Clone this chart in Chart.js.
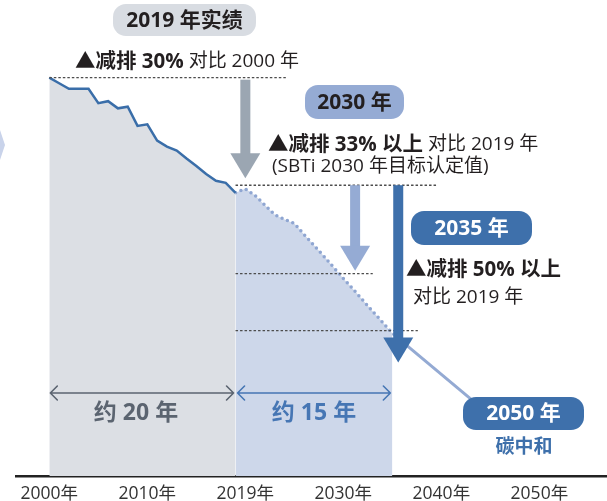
<!DOCTYPE html>
<html lang="zh-CN">
<head>
<meta charset="utf-8">
<script src="https://cdn.jsdelivr.net/npm/chart.js@4.4.1/dist/chart.umd.min.js"></script>
<style>
  html, body { margin: 0; padding: 0; background: #fff; }
  #wrap { position: relative; width: 607px; height: 501px; }
</style>
</head>
<body>
<div id="wrap"><canvas id="chart"></canvas></div>
<script>
// 排放指数 (2000 年 = 100)
const actualYears = [2000, 2001, 2002, 2003, 2004, 2005, 2006, 2007, 2008, 2009,
                     2010, 2011, 2012, 2013, 2014, 2015, 2016, 2017, 2018, 2019];
const actualValues = [100, 98.6, 97.2, 97.2, 97.2, 93.6, 94.1, 92.3, 92.7, 87.9,
                      88.3, 84.2, 82.7, 81.7, 79.7, 77.8, 75.8, 74.1, 73.6, 71.1];
const planYears = [2019, 2020, 2021, 2022, 2023, 2024, 2025, 2026, 2027,
                   2028, 2029, 2030, 2031, 2032, 2033, 2034, 2035];
const planValues = [71.1, 72.1, 70.4, 68.0, 65.6, 64.4, 63.4, 60.6, 57.9,
                    55.2, 52.4, 49.6, 46.9, 44.1, 41.3, 38.6, 35.8];
const pathYears = [2035, 2045];
const pathValues = [35.8, 15.2];
const tickYears = [2000, 2010, 2020, 2030, 2040, 2050];
const tickLabels = ['2000年', '2010年', '2019年', '2030年', '2040年', '2050年'];
// 基准线: 2000 年水平, 2019 年水平, 2030 目标, 2035 目标
const refLevels = [100, 73, 50.8, 36.5];

const FONT = '"Open Sans", "Noto Sans CJK SC", sans-serif';
const DARK = '#231f20';

const toPoints = (xs, ys) => xs.map((v, i) => ({ x: v, y: ys[i] }));

function roundRect(ctx, x, y, w, h, r, color) {
    ctx.beginPath();
    ctx.moveTo(x + r, y);
    ctx.arcTo(x + w, y, x + w, y + h, r);
    ctx.arcTo(x + w, y + h, x, y + h, r);
    ctx.arcTo(x, y + h, x, y, r);
    ctx.arcTo(x, y, x + w, y, r);
    ctx.closePath();
    ctx.fillStyle = color;
    ctx.fill();
}

function pill(ctx, cx, cy, w, h, bg, label, color) {
    roundRect(ctx, cx - w / 2, cy - h / 2, w, h, 13, bg);
    ctx.font = 'bold 21px ' + FONT;
    ctx.fillStyle = color;
    ctx.textAlign = 'center';
    ctx.fillText(label, cx, cy + 1);
    ctx.textAlign = 'left';
}

// 混合粗细的一行文字
function runs(ctx, x, y, parts) {
    let cx = x;
    parts.forEach(([text, font, color]) => {
        ctx.font = font;
        ctx.fillStyle = color || DARK;
        ctx.fillText(text, cx, y);
        cx += ctx.measureText(text).width;
    });
}

function downArrow(ctx, cx, top, tip, color) {
    const shaftW = 10, headW = 30, headH = 25;
    ctx.fillStyle = color;
    ctx.fillRect(cx - shaftW / 2, top, shaftW, tip - headH - top + 1);
    ctx.beginPath();
    ctx.moveTo(cx - headW / 2, tip - headH);
    ctx.lineTo(cx + headW / 2, tip - headH);
    ctx.lineTo(cx, tip);
    ctx.closePath();
    ctx.fill();
}

function spanArrow(ctx, x1, x2, yy, color) {
    ctx.strokeStyle = color;
    ctx.lineWidth = 1.6;
    ctx.lineCap = 'round';
    ctx.lineJoin = 'round';
    ctx.beginPath();
    ctx.moveTo(x1, yy);
    ctx.lineTo(x2, yy);
    ctx.moveTo(x1 + 7, yy - 7);
    ctx.lineTo(x1, yy);
    ctx.lineTo(x1 + 7, yy + 7);
    ctx.moveTo(x2 - 7, yy - 7);
    ctx.lineTo(x2, yy);
    ctx.lineTo(x2 - 7, yy + 7);
    ctx.stroke();
}

function refLine(ctx, x1, x2, yy) {
    ctx.save();
    ctx.strokeStyle = '#4d4d4d';
    ctx.lineWidth = 1.4;
    ctx.setLineDash([2.5, 2]);
    ctx.beginPath();
    ctx.moveTo(x1, yy);
    ctx.lineTo(x2, yy);
    ctx.stroke();
    ctx.restore();
}

const overlay = {
    id: 'overlay',
    afterDatasetsDraw(chart) {
        const { ctx, scales: { x, y } } = chart;
        const px = v => x.getPixelForValue(v);
        const py = v => y.getPixelForValue(v);
        const bold = 'bold 20.5px ' + FONT;
        const normal = '19px ' + FONT;
        ctx.save();
        ctx.textBaseline = 'middle';

        // 左侧装饰
        ctx.fillStyle = '#c9d3ea';
        ctx.beginPath();
        ctx.moveTo(0, 130);
        ctx.lineTo(5, 145);
        ctx.lineTo(0, 160);
        ctx.closePath();
        ctx.fill();

        // 基准虚线
        const x2019 = px(actualYears[actualYears.length - 1]);
        refLine(ctx, px(2000), px(2024.3), py(refLevels[0]));
        refLine(ctx, x2019, px(2039.6), py(refLevels[1]));
        refLine(ctx, x2019, px(2033), py(refLevels[2]));
        refLine(ctx, x2019, px(2037.6), py(refLevels[3]));

        // 箭头
        downArrow(ctx, px(2020), py(refLevels[0]) + 2, py(refLevels[1]) - 7, '#9ba6b2');
        downArrow(ctx, px(2031.2), py(refLevels[1]), py(refLevels[2]) - 3, '#95abd4');
        downArrow(ctx, px(2035.6), py(refLevels[1]), py(refLevels[3]) + 32, '#3e70ab');

        // 2019 年实绩
        pill(ctx, 184.5, 20, 143, 32, '#d8dce2', '2019 年实绩', DARK);
        runs(ctx, 75, 62, [['▲减排 30%', bold], [' 对比 2000 年', normal]]);

        // 2030 年
        pill(ctx, 354.5, 102, 99, 34, '#95abd4', '2030 年', DARK);
        runs(ctx, 268, 145, [['▲减排 33% 以上', bold], [' 对比 2019 年', normal]]);
        runs(ctx, 272, 167, [['(SBTi 2030 年目标认定值)', normal]]);

        // 2035 年
        pill(ctx, 471.5, 228, 121, 34, '#3e70ab', '2035 年', '#fff');
        runs(ctx, 406, 270, [['▲减排 50% 以上', bold]]);
        runs(ctx, 413, 298, [['对比 2019 年', normal]]);

        // 期间
        spanArrow(ctx, px(2000) + 1, x2019 - 2, 393, '#5b6470');
        spanArrow(ctx, x2019 + 2, px(planYears[planYears.length - 1]) - 2, 393, '#4676b4');
        ctx.textAlign = 'center';
        ctx.font = 'bold 23px ' + FONT;
        ctx.fillStyle = '#5b6470';
        ctx.fillText('约 20 年', 136, 413);
        ctx.fillStyle = '#4676b4';
        ctx.fillText('约 15 年', 314, 413);

        // 2050 年
        pill(ctx, 523.5, 413.5, 121, 33, '#3e70ab', '2050 年', '#fff');
        ctx.textAlign = 'center';
        ctx.font = 'bold 19px ' + FONT;
        ctx.fillStyle = '#3e70ab';
        ctx.fillText('碳中和', 524, 448);
        ctx.restore();
    }
};

new Chart(document.getElementById('chart'), {
    type: 'line',
    data: {
        datasets: [
            {
                label: '实绩',
                data: toPoints(actualYears, actualValues),
                borderColor: '#3a6ea9',
                borderWidth: 2.5,
                backgroundColor: '#dcdfe4',
                fill: 'origin',
                pointRadius: 0,
                tension: 0
            },
            {
                label: '目标路径',
                data: toPoints(planYears, planValues),
                borderColor: '#8fa6d2',
                borderWidth: 3.5,
                borderDash: [0, 5.8],
                borderCapStyle: 'round',
                backgroundColor: '#cdd7ea',
                fill: 'origin',
                pointRadius: 0,
                tension: 0
            },
            {
                label: '碳中和路径',
                data: toPoints(pathYears, pathValues),
                borderColor: '#94aad3',
                borderWidth: 3,
                fill: false,
                pointRadius: 0
            }
        ]
    },
    options: {
        responsive: true,
        maintainAspectRatio: false,
        animation: false,
        layout: { padding: { left: 16, right: 0, top: 0, bottom: 0 } },
        plugins: {
            legend: { display: false },
            tooltip: { enabled: false }
        },
        scales: {
            x: {
                type: 'linear',
                min: 1996.6,
                max: 2056.9,
                afterBuildTicks: axis => { axis.ticks = tickYears.map(v => ({ value: v })); },
                afterFit: axis => { axis.height = 25; },
                grid: { display: false, drawTicks: false },
                border: { display: true, color: '#222', width: 2.5 },
                ticks: {
                    autoSkip: false,
                    maxRotation: 0,
                    padding: 8,
                    color: '#333',
                    font: { family: FONT, size: 17.5 },
                    callback: v => tickLabels[tickYears.indexOf(v)]
                }
            },
            y: {
                display: false,
                min: 0,
                max: 119.5
            }
        }
    },
    plugins: [overlay]
});
</script>
</body>
</html>
